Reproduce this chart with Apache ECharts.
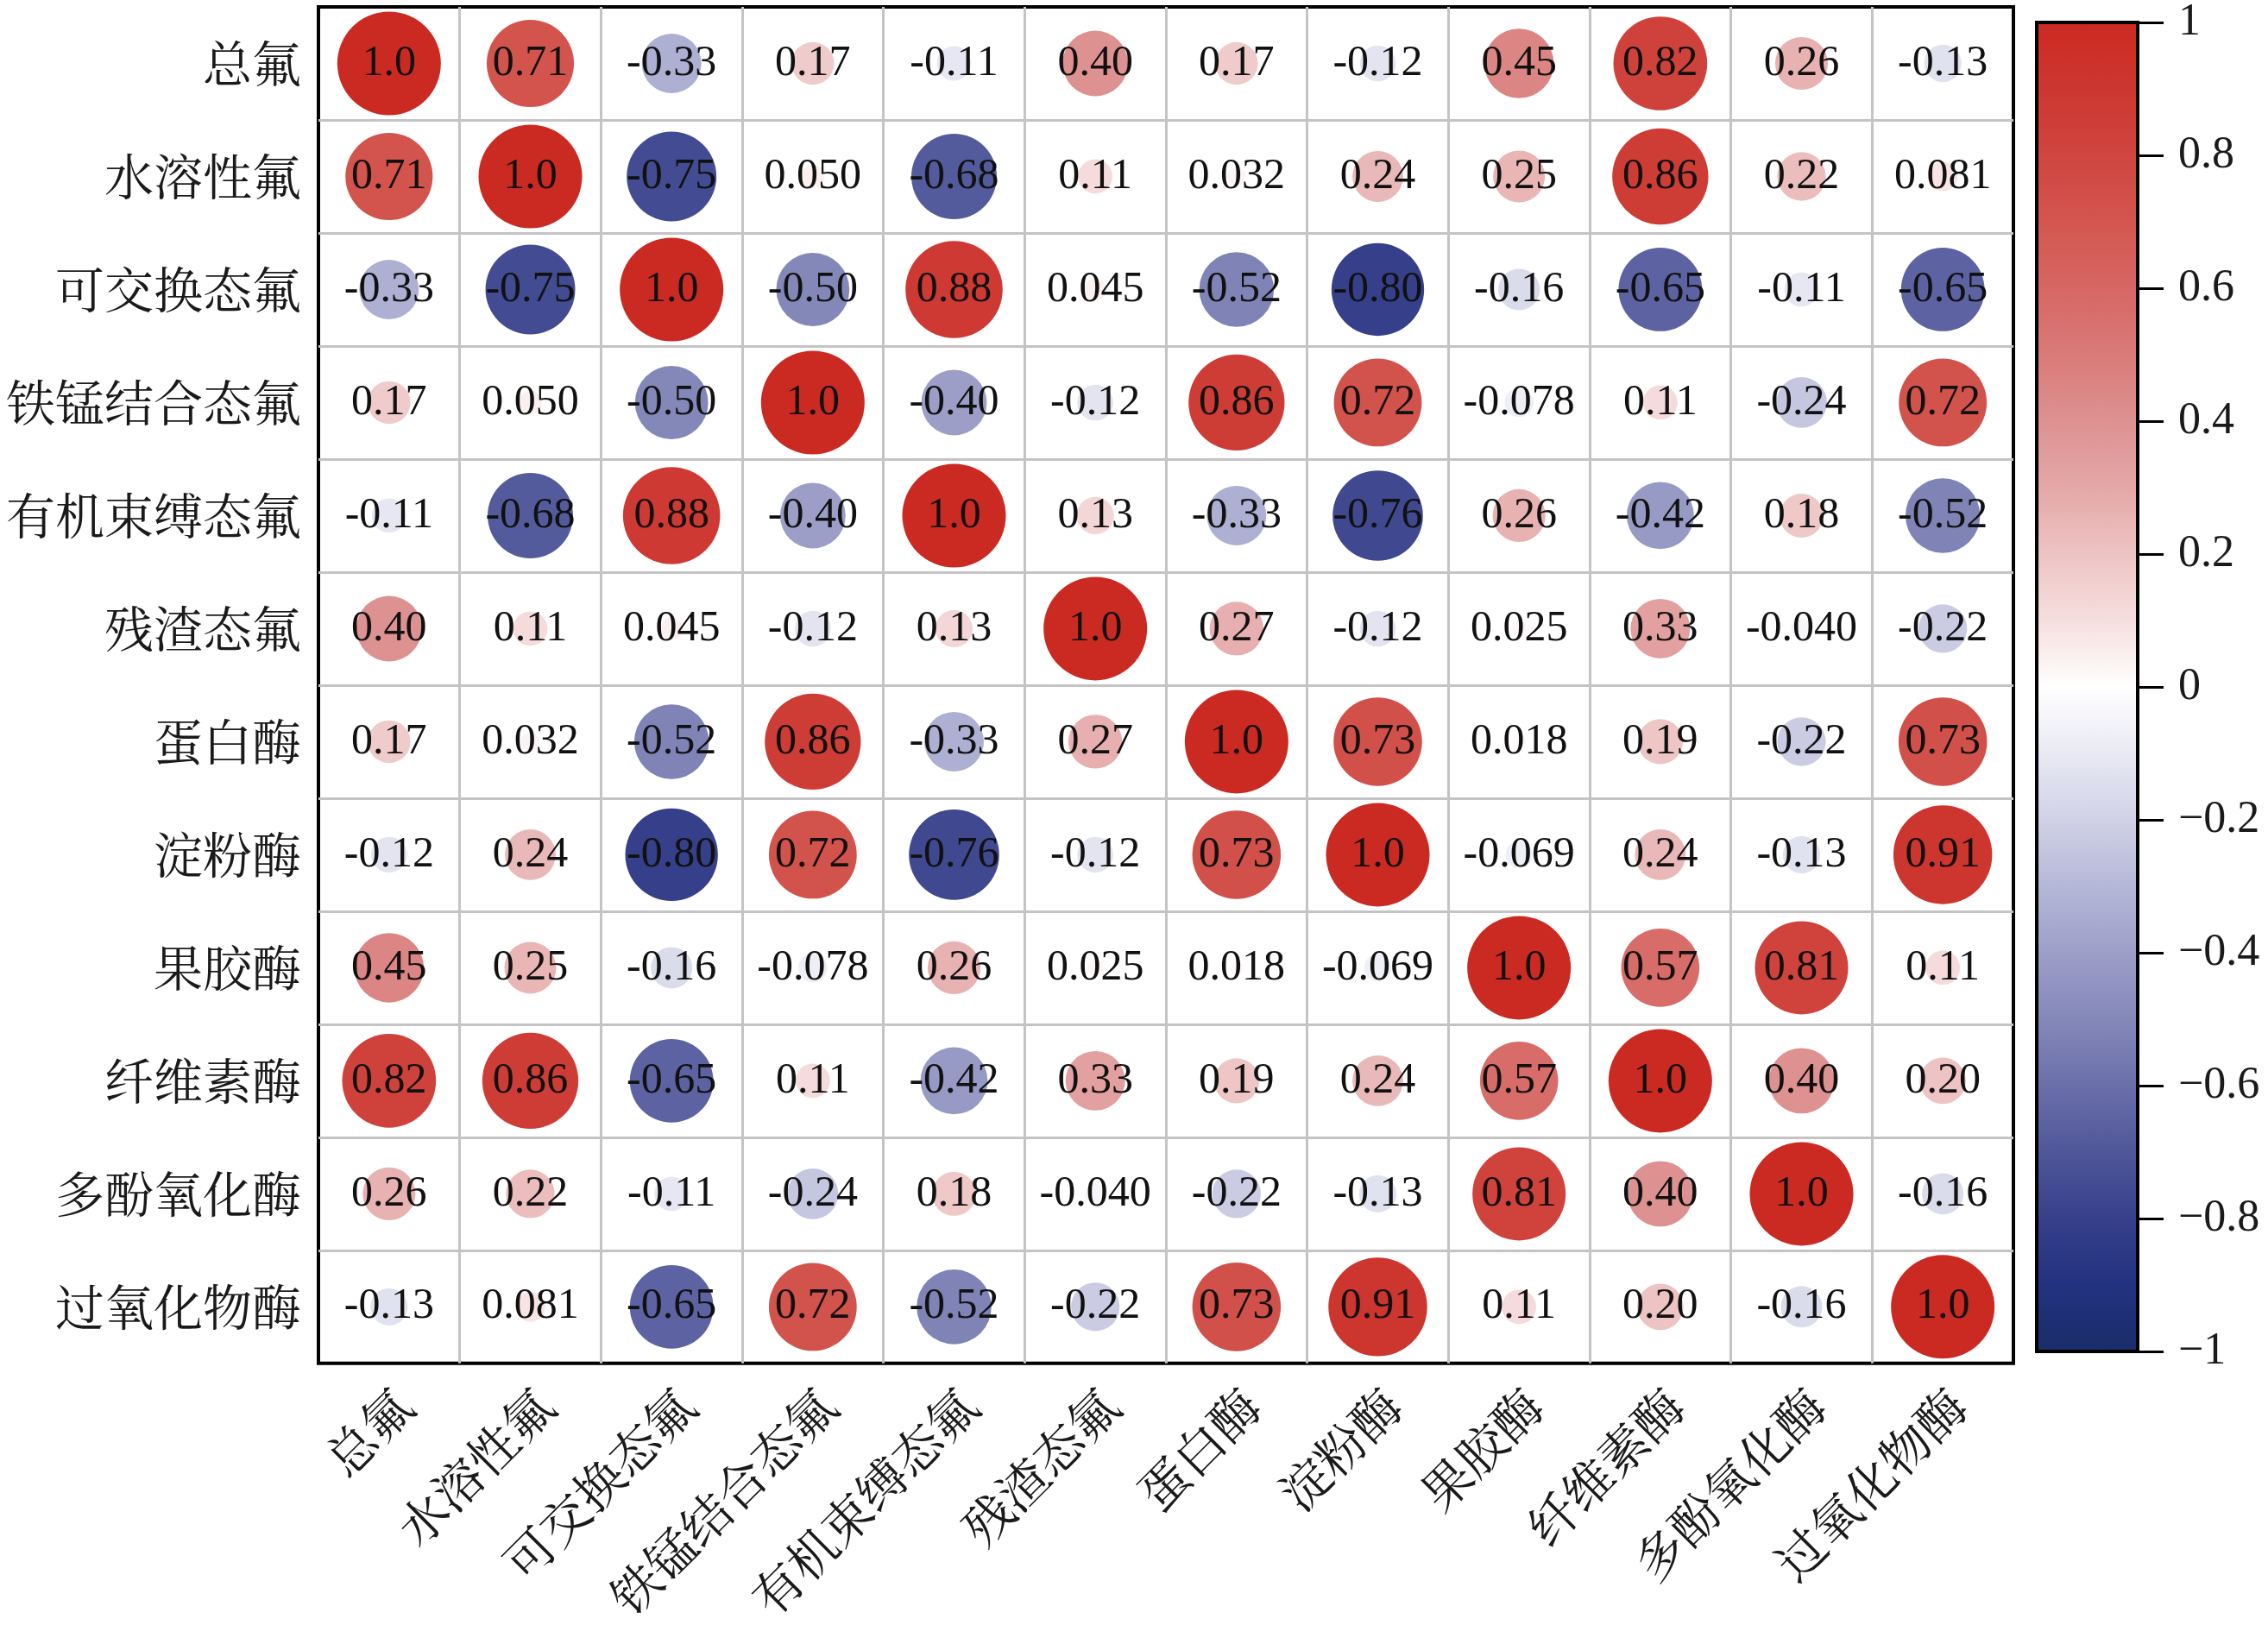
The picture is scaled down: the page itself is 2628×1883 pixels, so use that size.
<!DOCTYPE html>
<html>
<head>
<meta charset="utf-8">
<script src="https://cdn.jsdelivr.net/npm/echarts@6/dist/echarts.min.js"></script>
<style>
html,body{margin:0;padding:0;background:#fff;}
#chart{width:2628px;height:1883px;}
</style>
</head>
<body>
<div id="chart"></div>
<script>
const categories = ['总氟','水溶性氟','可交换态氟','铁锰结合态氟','有机束缚态氟','残渣态氟','蛋白酶','淀粉酶','果胶酶','纤维素酶','多酚氧化酶','过氧化物酶'];

const row1  = [1.0, 0.71, -0.33, 0.17, -0.11, 0.40, 0.17, -0.12, 0.45, 0.82, 0.26, -0.13];
const row2  = [0.71, 1.0, -0.75, 0.050, -0.68, 0.11, 0.032, 0.24, 0.25, 0.86, 0.22, 0.081];
const row3  = [-0.33, -0.75, 1.0, -0.50, 0.88, 0.045, -0.52, -0.80, -0.16, -0.65, -0.11, -0.65];
const row4  = [0.17, 0.050, -0.50, 1.0, -0.40, -0.12, 0.86, 0.72, -0.078, 0.11, -0.24, 0.72];
const row5  = [-0.11, -0.68, 0.88, -0.40, 1.0, 0.13, -0.33, -0.76, 0.26, -0.42, 0.18, -0.52];
const row6  = [0.40, 0.11, 0.045, -0.12, 0.13, 1.0, 0.27, -0.12, 0.025, 0.33, -0.040, -0.22];
const row7  = [0.17, 0.032, -0.52, 0.86, -0.33, 0.27, 1.0, 0.73, 0.018, 0.19, -0.22, 0.73];
const row8  = [-0.12, 0.24, -0.80, 0.72, -0.76, -0.12, 0.73, 1.0, -0.069, 0.24, -0.13, 0.91];
const row9  = [0.45, 0.25, -0.16, -0.078, 0.26, 0.025, 0.018, -0.069, 1.0, 0.57, 0.81, 0.11];
const row10 = [0.82, 0.86, -0.65, 0.11, -0.42, 0.33, 0.19, 0.24, 0.57, 1.0, 0.40, 0.20];
const row11 = [0.26, 0.22, -0.11, -0.24, 0.18, -0.040, -0.22, -0.13, 0.81, 0.40, 1.0, -0.16];
const row12 = [-0.13, 0.081, -0.65, 0.72, -0.52, -0.22, 0.73, 0.91, 0.11, 0.20, -0.16, 1.0];
const matrix = [row1,row2,row3,row4,row5,row6,row7,row8,row9,row10,row11,row12];

// colour scale from -1 to 1 in steps of 0.1
const colorScale = ['#1B2C68','#223280','#363F8A','#4F5699','#6A6FAA','#8488B9','#9C9EC8','#B5B7D8','#D0D1E6','#E8E9F3','#FFFFFF',
                    '#F6DEDE','#EDC3C3','#E4A7A7','#DD9191','#D97A78','#D66663','#D3554F','#D0453F','#CD3630','#CB2A22'];

const data = [];
matrix.forEach((row, i) => row.forEach((v, j) => data.push([j, i, v])));

const n = colorScale.length;
const barGradient = {
  type: 'linear', x: 0, y: 0, x2: 0, y2: 1,
  colorStops: colorScale.map((c, k) => ({offset: 1 - k / (n - 1), color: c})).reverse()
};

const chart = echarts.init(document.getElementById('chart'));
const serif = 'Liberation Serif';
const cjk = '"Noto Serif CJK SC", "Noto Sans CJK SC"';

chart.setOption({
  backgroundColor: '#fff',
  animation: false,
  grid: [
    {left: 369, top: 8, width: 1964, height: 1576, show: true, borderColor: '#000', borderWidth: 4, backgroundColor: 'transparent'},
    {left: 2360, top: 23, width: 117, height: 1543, show: true, borderColor: '#000', borderWidth: 4, backgroundColor: barGradient}
  ],
  xAxis: [
    {
      type: 'category', data: categories, gridIndex: 0,
      axisLine: {show: false}, axisTick: {show: false},
      splitLine: {show: true, showMinLine: false, showMaxLine: false, lineStyle: {color: '#C4C4C4', width: 3}},
      axisLabel: {interval: 0, rotate: 45, margin: 56, padding: [0, -24, 0, 0], fontSize: 57, fontFamily: cjk, color: '#1a1a1a'}
    },
    {type: 'value', gridIndex: 1, min: 0, max: 1, show: false}
  ],
  yAxis: [
    {
      type: 'category', data: categories, inverse: true, gridIndex: 0,
      axisLine: {show: false}, axisTick: {show: false},
      splitLine: {show: true, showMinLine: false, showMaxLine: false, lineStyle: {color: '#C4C4C4', width: 3}},
      axisLabel: {interval: 0, margin: 20, fontSize: 57, fontFamily: cjk, color: '#1a1a1a'}
    },
    {
      type: 'value', gridIndex: 1, min: -1, max: 1, interval: 0.2, position: 'right',
      axisLine: {show: false, onZero: false},
      splitLine: {show: false},
      axisTick: {show: true, inside: false, length: 30, lineStyle: {color: '#000', width: 3}},
      axisLabel: {
        margin: 47, fontSize: 52, fontFamily: serif, color: '#1a1a1a', align: 'left',
        formatter: v => {
          const r = Math.round(v * 10) / 10;
          if (r === 0) return '0';
          const s = Math.abs(r) === 1 ? '1' : Math.abs(r).toFixed(1);
          return (r < 0 ? '\u2212' : '') + s;
        }
      }
    }
  ],
  visualMap: {
    type: 'continuous', show: false, min: -1, max: 1, dimension: 2, seriesIndex: 0,
    inRange: {color: colorScale}
  },
  series: [
    {
      type: 'scatter', xAxisIndex: 0, yAxisIndex: 0,
      data: data,
      symbol: 'circle',
      symbolSize: val => 120 * Math.sqrt(Math.abs(val[2])),
      label: {
        show: true, position: 'inside', color: '#111', fontSize: 50, fontFamily: serif,
        formatter: p => p.value[2].toPrecision(2)
      },
      itemStyle: {opacity: 1},
      emphasis: {disabled: true}
    },
    {type: 'scatter', xAxisIndex: 1, yAxisIndex: 1, data: []}
  ]
});
</script>
</body>
</html>
